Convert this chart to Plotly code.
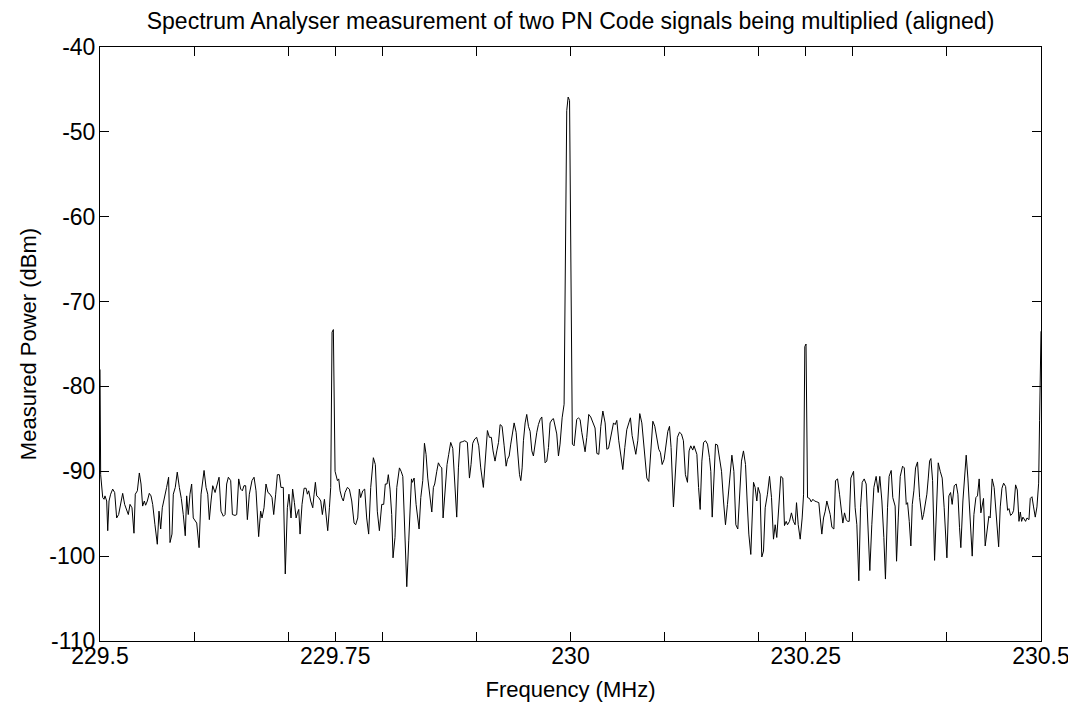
import plotly.graph_objects as go

# ---- data (frequency in MHz, power in dBm) ----
seg1_freq = [229.5000, 229.5007, 229.5029, 229.5043, 229.5053, 229.5071, 229.5082, 229.5096, 229.5113, 229.5135,
             229.5156, 229.5177, 229.5198, 229.5220, 229.5241, 229.5262, 229.5283, 229.5301, 229.5319, 229.5340,
             229.5361, 229.5375, 229.5397, 229.5418, 229.5436, 229.5453, 229.5471, 229.5485, 229.5503, 229.5524,
             229.5542, 229.5560, 229.5584, 229.5609, 229.5627, 229.5645, 229.5662, 229.5687, 229.5708, 229.5729,
             229.5744, 229.5765, 229.5779, 229.5800, 229.5821, 229.5843, 229.5864, 229.5885, 229.5906, 229.5921,
             229.5938, 229.5956, 229.5974, 229.5991]
seg1_power = [-78.0, -90.4, -93.1, -93.3, -92.9, -93.5, -97.0, -93.5, -92.7, -92.1,
              -92.5, -95.5, -95.1, -93.9, -92.6, -93.9, -94.5, -95.1, -93.9, -94.3,
              -97.3, -92.7, -92.3, -90.2, -91.5, -94.1, -93.5, -94.0, -93.5, -92.6,
              -92.9, -93.9, -96.3, -98.6, -94.7, -96.8, -94.3, -93.1, -91.9, -90.7,
              -98.4, -97.4, -92.7, -91.9, -90.1, -91.9, -93.2, -95.1, -97.6, -92.9,
              -95.1, -92.7, -91.5, -95.5]

seg2_freq = [229.6028, 229.6053, 229.6074, 229.6106, 229.6127, 229.6145, 229.6162, 229.6180, 229.6198, 229.6223,
             229.6247, 229.6265, 229.6286, 229.6311, 229.6329, 229.6346, 229.6364, 229.6389, 229.6407, 229.6435,
             229.6453, 229.6474, 229.6495, 229.6513, 229.6530, 229.6548, 229.6566, 229.6587, 229.6615, 229.6637,
             229.6658, 229.6686, 229.6707, 229.6722, 229.6743, 229.6764, 229.6785, 229.6807, 229.6828, 229.6846,
             229.6867, 229.6885, 229.6906, 229.6923, 229.6948, 229.6969, 229.6991, 229.7008, 229.7030, 229.7047]
seg2_power = [-96.1, -99.0, -92.7, -89.9, -91.9, -92.7, -95.7, -93.5, -91.7, -92.5,
              -91.5, -90.7, -94.7, -95.3, -95.1, -91.5, -90.7, -91.1, -95.1, -95.2,
              -95.1, -90.9, -92.1, -92.3, -91.7, -91.7, -95.7, -92.7, -91.1, -90.7,
              -92.3, -97.7, -94.7, -95.5, -94.3, -91.5, -92.5, -92.7, -93.1, -95.1,
              -92.7, -90.4, -90.4, -91.9, -91.9, -102.1, -94.3, -92.7, -95.5, -92.1]

seg3_freq = [229.7066, 229.7084, 229.7098, 229.7112, 229.7126, 229.7147, 229.7169, 229.7190, 229.7204, 229.7218,
             229.7239, 229.7261, 229.7275, 229.7289, 229.7303, 229.7324, 229.7346, 229.7363, 229.7385, 229.7402,
             229.7420, 229.7438, 229.7452, 229.7466, 229.7480, 229.7498, 229.7523, 229.7537, 229.7551, 229.7569,
             229.7586, 229.7604, 229.7629, 229.7650, 229.7675, 229.7700, 229.7717, 229.7739, 229.7756, 229.7770,
             229.7792, 229.7813, 229.7834, 229.7855, 229.7877, 229.7905, 229.7926, 229.7947, 229.7969, 229.7994,
             229.8015, 229.8032, 229.8050, 229.8064, 229.8082, 229.8100, 229.8114, 229.8135]
seg3_power = [-93.7, -95.5, -94.9, -94.5, -97.4, -93.9, -92.0, -92.0, -92.7, -92.3,
              -93.5, -94.3, -92.7, -91.3, -92.9, -93.1, -93.5, -95.1, -93.3, -95.5,
              -97.0, -94.3, -91.9, -73.6, -73.3, -90.0, -91.1, -90.9, -92.3, -93.1,
              -93.5, -92.5, -91.9, -92.1, -93.5, -96.1, -96.3, -95.5, -92.1, -93.1,
              -92.3, -92.1, -95.5, -97.4, -91.9, -88.4, -89.2, -94.7, -97.0, -93.9,
              -93.9, -91.5, -91.5, -90.4, -92.1, -95.1, -100.2, -97.8]

seg4_freq = [229.8154, 229.8182, 229.8200, 229.8218, 229.8239, 229.8260, 229.8281, 229.8295, 229.8310, 229.8320,
             229.8338, 229.8359, 229.8377, 229.8391, 229.8409, 229.8430, 229.8448, 229.8465, 229.8483, 229.8508,
             229.8526, 229.8543, 229.8557, 229.8579, 229.8596, 229.8614, 229.8632, 229.8646, 229.8667, 229.8688,
             229.8706, 229.8727, 229.8749, 229.8773, 229.8791, 229.8809, 229.8826, 229.8855, 229.8876, 229.8904,
             229.8926, 229.8943, 229.8961, 229.8982, 229.9003, 229.9025, 229.9046, 229.9074, 229.9095, 229.9117,
             229.9138, 229.9159, 229.9177, 229.9198]
seg4_power = [-91.9, -89.6, -90.0, -90.6, -97.8, -103.6, -98.2, -93.5, -90.9, -91.3,
              -90.8, -93.9, -95.5, -96.8, -93.1, -91.1, -86.7, -88.0, -90.8, -93.5,
              -94.8, -91.9, -91.5, -90.0, -89.0, -89.4, -89.6, -95.5, -92.7, -89.2,
              -88.0, -86.6, -87.3, -91.9, -95.4, -89.6, -86.6, -86.5, -86.4, -86.6,
              -90.8, -89.2, -86.7, -86.2, -86.0, -87.0, -89.6, -91.9, -88.4, -85.2,
              -86.0, -86.0, -87.6, -88.8]

seg5_freq = [229.9217, 229.9235, 229.9252, 229.9273, 229.9295, 229.9316, 229.9330, 229.9348, 229.9365, 229.9387,
             229.9401, 229.9422, 229.9440, 229.9458, 229.9472, 229.9486, 229.9500, 229.9518, 229.9535, 229.9553,
             229.9571, 229.9589, 229.9606, 229.9624, 229.9642, 229.9659, 229.9677, 229.9695, 229.9712, 229.9730,
             229.9748, 229.9766, 229.9783, 229.9804, 229.9819, 229.9836, 229.9854, 229.9872, 229.9889, 229.9911,
             229.9932, 229.9960, 229.9975, 229.9990, 230.0020, 230.0038, 230.0052, 230.0066, 230.0084, 230.0102,
             230.0120, 230.0137, 230.0155, 230.0173, 230.0194, 230.0215, 230.0236, 230.0261]
seg5_power = [-87.6, -86.6, -84.5, -84.7, -87.0, -89.4, -88.6, -88.2, -86.8, -84.9,
              -84.3, -85.4, -88.0, -90.4, -91.1, -89.6, -86.4, -84.3, -83.3, -84.7,
              -85.3, -87.6, -88.2, -86.4, -85.4, -84.5, -83.9, -83.6, -87.0, -89.0,
              -88.8, -87.2, -84.3, -83.9, -83.8, -84.9, -85.6, -88.2, -86.8, -83.7,
              -82.1, -47.5, -45.9, -46.3, -86.8, -87.0, -84.9, -83.9, -83.7, -83.9,
              -85.4, -86.4, -87.7, -86.0, -83.3, -83.6, -84.1, -84.9]

seg6_freq = [230.0280, 230.0301, 230.0322, 230.0344, 230.0368, 230.0386, 230.0404, 230.0421, 230.0439, 230.0457,
             230.0475, 230.0492, 230.0513, 230.0535, 230.0556, 230.0577, 230.0598, 230.0620, 230.0637, 230.0655,
             230.0676, 230.0694, 230.0715, 230.0736, 230.0758, 230.0775, 230.0793, 230.0811, 230.0832, 230.0853,
             230.0875, 230.0896, 230.0917, 230.0938, 230.0956, 230.0974, 230.0995, 230.1016, 230.1034, 230.1052,
             230.1069, 230.1094, 230.1115, 230.1136, 230.1158, 230.1179, 230.1200, 230.1221, 230.1243, 230.1260,
             230.1278, 230.1299, 230.1313]
seg6_power = [-87.9, -88.0, -84.7, -82.9, -84.3, -87.4, -87.3, -86.4, -85.1, -84.3,
              -84.5, -84.0, -86.4, -88.4, -89.8, -87.2, -85.1, -84.3, -83.7, -85.8,
              -87.2, -88.0, -86.4, -83.2, -84.3, -86.4, -88.8, -90.8, -91.2, -88.0,
              -84.1, -84.7, -86.0, -87.4, -87.8, -89.2, -88.6, -86.4, -85.3, -84.7,
              -87.2, -94.2, -90.0, -86.0, -85.4, -85.6, -86.4, -90.4, -91.3, -87.6,
              -87.0, -87.5, -87.0]

seg7_freq = [230.1343, 230.1361, 230.1378, 230.1396, 230.1414, 230.1435, 230.1456, 230.1477, 230.1491, 230.1506,
             230.1523, 230.1541, 230.1562, 230.1584, 230.1605, 230.1626, 230.1647, 230.1668, 230.1690, 230.1715,
             230.1736, 230.1757, 230.1778, 230.1796, 230.1817, 230.1838, 230.1860, 230.1877, 230.1895, 230.1916,
             230.1930, 230.1945, 230.1962, 230.1980, 230.1994, 230.2015, 230.2033, 230.2051, 230.2069, 230.2093,
             230.2115, 230.2136, 230.2157, 230.2175, 230.2192, 230.2214, 230.2235, 230.2256, 230.2274, 230.2292,
             230.2306, 230.2327, 230.2348, 230.2369, 230.2387]
seg7_power = [-88.0, -91.9, -94.5, -88.8, -86.6, -86.4, -86.8, -88.4, -90.0, -95.4,
              -91.9, -86.8, -86.9, -88.8, -90.0, -93.5, -96.3, -93.9, -90.8, -88.1,
              -90.0, -96.3, -96.8, -93.5, -88.8, -87.6, -89.2, -93.5, -97.4, -99.8,
              -94.7, -91.3, -91.9, -93.5, -91.9, -92.7, -100.1, -99.4, -94.3, -92.7,
              -90.6, -93.1, -98.0, -96.3, -97.8, -93.5, -90.6, -90.8, -96.4, -95.9,
              -96.3, -95.9, -94.9, -95.9, -96.3]

seg8_freq = [230.2402, 230.2420, 230.2441, 230.2462, 230.2477, 230.2490, 230.2503, 230.2519, 230.2540, 230.2558,
             230.2576, 230.2593, 230.2618, 230.2639, 230.2654, 230.2671, 230.2689, 230.2707, 230.2724, 230.2746,
             230.2760, 230.2778, 230.2799, 230.2816, 230.2838, 230.2859, 230.2877, 230.2894, 230.2912, 230.2930,
             230.2944, 230.2962, 230.2979, 230.3008, 230.3025, 230.3043, 230.3064, 230.3082, 230.3100, 230.3121,
             230.3142, 230.3160, 230.3181, 230.3202, 230.3224, 230.3248, 230.3270, 230.3287, 230.3309, 230.3330,
             230.3347, 230.3369, 230.3386, 230.3408, 230.3425, 230.3450]
seg8_power = [-93.7, -96.3, -98.0, -95.5, -92.7, -75.3, -75.0, -93.1, -93.2, -93.6,
              -93.3, -93.5, -93.6, -93.7, -95.5, -97.4, -95.5, -94.7, -93.5, -94.3,
              -95.1, -96.6, -96.8, -91.1, -90.9, -92.7, -94.3, -96.1, -94.9, -95.7,
              -95.9, -95.9, -90.8, -90.0, -94.3, -96.3, -102.9, -94.3, -91.3, -90.9,
              -91.5, -95.9, -101.7, -96.3, -91.9, -90.6, -92.5, -90.6, -93.5, -97.8,
              -102.7, -94.3, -90.6, -89.9, -93.1, -94.1]

seg9_freq = [230.3465, 230.3483, 230.3504, 230.3529, 230.3547, 230.3568, 230.3582, 230.3600, 230.3617, 230.3632,
             230.3649, 230.3667, 230.3688, 230.3710, 230.3738, 230.3752, 230.3770, 230.3787, 230.3802, 230.3816,
             230.3830, 230.3848, 230.3869, 230.3887, 230.3908, 230.3929, 230.3950, 230.3971, 230.4000, 230.4021,
             230.4039, 230.4056, 230.4078, 230.4099, 230.4117, 230.4134, 230.4148, 230.4170, 230.4191, 230.4205,
             230.4223, 230.4248, 230.4269, 230.4287, 230.4308, 230.4325, 230.4343, 230.4361, 230.4375, 230.4389,
             230.4407, 230.4425, 230.4446, 230.4460, 230.4481, 230.4502]
seg9_power = [-100.6, -95.5, -90.6, -89.4, -89.6, -93.9, -93.7, -95.9, -98.8, -93.9,
              -92.3, -89.6, -88.9, -93.1, -95.7, -95.1, -93.9, -92.7, -90.8, -88.8,
              -88.5, -91.1, -100.5, -94.3, -89.0, -90.0, -90.8, -94.3, -100.2, -92.9,
              -92.5, -93.9, -91.7, -91.5, -92.7, -96.6, -99.0, -93.5, -89.6, -88.1,
              -90.8, -96.6, -100.0, -95.1, -93.1, -92.9, -90.9, -94.9, -93.9, -93.2,
              -98.8, -97.0, -95.3, -95.5, -90.9, -91.9]

seg10_freq = [230.4532, 230.4550, 230.4567, 230.4585, 230.4603, 230.4624, 230.4645, 230.4659, 230.4677, 230.4695,
              230.4709, 230.4730, 230.4748, 230.4766, 230.4780, 230.4794, 230.4808, 230.4822, 230.4836, 230.4851,
              230.4872, 230.4886, 230.4904, 230.4921, 230.4939, 230.4957, 230.4975, 230.4985, 230.4992, 230.5000]
seg10_power = [-95.7, -98.9, -94.2, -92.0, -91.4, -91.8, -94.6, -94.4, -95.2, -95.0,
               -94.6, -91.6, -92.2, -95.9, -94.8, -95.9, -95.4, -95.7, -95.9, -95.5,
               -95.7, -93.2, -93.0, -94.2, -95.4, -94.2, -91.4, -84.0, -77.0, -73.5]

x_tick_values = [229.5, 229.6, 229.7, 229.75, 229.8, 229.9, 230.0, 230.1, 230.2, 230.25, 230.3, 230.4, 230.5]
x_tick_labels = ["229.5", "", "", "229.75", "", "", "230", "", "", "230.25", "", "", "230.5"]
y_tick_values = [-110, -100, -90, -80, -70, -60, -50, -40]

title_text = "Spectrum Analyser measurement of two PN Code signals being multiplied (aligned)"
x_title = "Frequency (MHz)"
y_title = "Measured Power (dBm)"

# ---- assemble ----
freq_segments = [seg1_freq, seg2_freq, seg3_freq, seg4_freq, seg5_freq,
                 seg6_freq, seg7_freq, seg8_freq, seg9_freq, seg10_freq]
power_segments = [seg1_power, seg2_power, seg3_power, seg4_power, seg5_power,
                  seg6_power, seg7_power, seg8_power, seg9_power, seg10_power]
freq = []
power = []
for fs, ps in zip(freq_segments, power_segments):
    assert len(fs) == len(ps), (len(fs), len(ps))
    freq.extend(fs)
    power.extend(ps)

FONT = "Liberation Sans, Arial, sans-serif"

fig = go.Figure()
fig.add_trace(go.Scatter(x=freq, y=power, mode="lines",
                         line=dict(color="black", width=1), showlegend=False,
                         hoverinfo="skip"))

axis_common = dict(showgrid=False, zeroline=False, showline=True, linecolor="black",
                   linewidth=1, mirror="ticks", ticks="inside", ticklen=9,
                   tickcolor="black", tickwidth=1, automargin=False,
                   tickfont=dict(family=FONT, size=23, color="black"))

fig.update_xaxes(range=[229.5, 230.5], tickmode="array", tickvals=x_tick_values,
                 ticktext=x_tick_labels, ticklabelstandoff=-6,
                 title=dict(text=x_title, font=dict(family=FONT, size=22, color="black"), standoff=14),
                 **axis_common)
fig.update_yaxes(range=[-110, -40], tickmode="array", tickvals=y_tick_values,
                 ticktext=[str(v) for v in y_tick_values], ticklabelstandoff=-1,
                 title=dict(text=y_title, font=dict(family=FONT, size=22, color="black"), standoff=6),
                 **axis_common)

# the page places the figure 8 px in from the top-left corner, so the figure
# is 8 px smaller on each side and its margins are shifted accordingly
fig.update_layout(
    width=1068, height=694,
    margin=dict(l=92, r=35, t=39, b=61, pad=0),
    paper_bgcolor="white", plot_bgcolor="white",
    font=dict(family=FONT, color="black"),
    title=dict(text=title_text, x=0.5, xref="paper", xanchor="center",
               y=1 - 12.5 / 694, yref="container", yanchor="middle",
               font=dict(family=FONT, size=23, color="black")),
)

fig.write_html("out.html")
